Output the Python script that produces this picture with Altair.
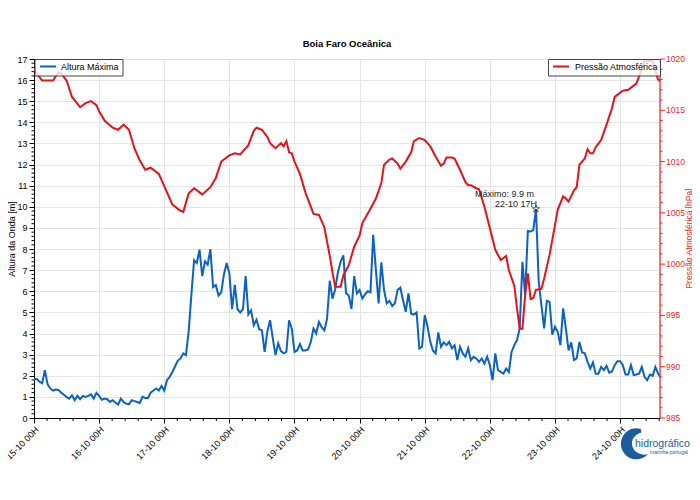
import altair as alt
import pandas as pd

FONT = "Liberation Sans"
BLUE = "#0b62c4"
RED = "#e3121b"
RED_AXIS = "#f02828"
GRID = "#e4e4e4"
LOGO_BLUE = "#1b5c9e"

TITLE = "Boia Faro Oceânica"
WAVE_LABEL = "Altura Máxima"
PRESS_LABEL = "Pressão Atmosférica"
Y_LEFT_TITLE = "Altura da Onda [m]"
Y_RIGHT_TITLE = "Pressão Atmosférica [hPa]"
LOGO_TEXT = "hidrográfico"
LOGO_SUB = "marinha-portugal"

START = pd.Timestamp("2024-10-15T00:00:00Z")

# hourly maximum wave height [m], from 15-10 00H
wave_hours = list(range(0, 232))
wave_m = [
    1.85, 1.85, 1.72, 1.65, 2.26, 1.6, 1.4, 1.3, 1.35, 1.33, 1.2, 1.1,
    1.0, 0.92, 1.08, 0.84, 1.05, 0.89, 1.05, 1.0, 1.05, 1.12, 0.92, 1.19,
    1.05, 0.86, 0.92, 0.89, 0.76, 0.84, 0.73, 0.63, 0.92, 0.76, 0.68, 0.65,
    0.84, 0.8, 0.76, 0.71, 1.0, 0.95, 0.95, 1.2, 1.3, 1.4, 1.3, 1.52,
    1.3, 1.79, 1.95, 2.18, 2.45, 2.72, 2.82, 3.06, 2.98, 4.1, 5.84, 7.47,
    7.34, 7.97, 6.72, 7.42, 7.26, 8.0, 6.2, 6.3, 5.8, 5.95, 6.8, 7.34,
    6.85, 5.15, 6.3, 5.15, 5.0, 5.15, 6.72, 4.9, 5.1, 4.4, 4.65, 4.2,
    4.15, 3.13, 4.1, 4.63, 3.77, 2.98, 3.54, 3.17, 3.06, 3.13, 4.63, 4.23,
    3.13, 3.2, 3.5, 3.2, 3.2, 3.25, 3.6, 4.23, 4.0, 4.55, 4.3, 4.15,
    4.7, 6.5, 5.65, 6.1, 6.9, 7.4, 7.7, 5.9, 5.8, 5.16, 6.72, 5.9,
    6.06, 5.66, 5.85, 6.0, 5.95, 8.67, 7.0, 5.43, 7.37, 6.06, 5.43, 5.55,
    5.3, 5.43, 6.06, 6.17, 5.58, 5.03, 5.9, 4.94, 4.9, 5.0, 3.29, 3.37,
    4.87, 4.35, 3.63, 3.2, 3.06, 4.05, 3.37, 3.58, 3.45, 3.6, 3.3, 3.45,
    2.74, 3.37, 3.06, 2.9, 3.3, 2.74, 2.9, 2.82, 2.66, 2.82, 2.58, 2.9,
    2.5, 1.79, 3.06, 2.27, 2.18, 2.1, 2.34, 2.18, 3.13, 3.45, 3.69, 4.24,
    7.4, 5.82, 8.86, 8.83, 8.9, 9.9, 6.45, 5.35, 4.24, 5.55, 5.5, 3.94,
    4.32, 4.08, 3.45, 5.19, 4.24, 3.2, 3.58, 2.74, 2.82, 3.6, 3.1, 3.06,
    2.66, 2.34, 2.63, 2.1, 2.1, 2.42, 2.27, 2.47, 2.15, 2.2, 2.5, 2.69,
    2.69, 2.5, 2.06, 2.06, 2.5, 2.03, 2.06, 2.1, 2.42, 1.95, 1.79, 2.06,
    2.0, 2.42, 2.1, 1.9,
]

# atmospheric pressure [hPa]
press_hours = [
    0, 1, 3, 7, 9, 10, 12, 14, 17, 19, 21, 23, 24, 26, 29, 31, 33, 35, 37, 39,
    41, 43, 46, 48, 51, 54, 55, 57, 59, 62, 65, 67, 69, 72, 74, 76, 79, 81, 82, 84,
    86, 87, 89, 91, 92, 93, 94, 95, 96, 98, 100, 102, 103, 105, 107, 109, 110, 111, 113, 114,
    116, 118, 120, 121, 124, 126, 128, 129, 131, 132, 134, 135, 137, 139, 140, 142, 144, 146, 148, 150,
    151, 152, 154, 155, 157, 159, 160, 161, 163, 164, 166, 168, 170, 172, 173, 174, 175, 177, 178, 179,
    180, 181, 182, 183, 184, 185, 187, 188, 190, 192, 193, 195, 196, 197, 199, 200, 201, 203, 204, 205,
    206, 207, 209, 211, 213, 214, 217, 219, 221, 222, 224, 225, 228, 229, 230, 231,
]
press_hpa = [
    1019.1, 1018.6, 1017.9, 1017.9, 1018.7, 1018.6, 1017.9, 1016.3, 1015.3, 1015.7, 1015.9, 1015.5, 1014.9, 1014.0, 1013.3, 1013.1, 1013.6, 1013.1, 1011.3, 1010.1,
    1009.2, 1009.4, 1008.8, 1007.6, 1005.8, 1005.2, 1005.1, 1006.9, 1007.4, 1006.8, 1007.5, 1008.4, 1010.0, 1010.6, 1010.8, 1010.7, 1011.6, 1013.0, 1013.3, 1013.1,
    1012.4, 1011.8, 1011.3, 1011.8, 1011.5, 1012.0, 1010.9, 1010.8, 1010.0, 1008.8, 1007.0, 1005.6, 1004.9, 1004.8, 1003.6, 1000.8, 999.2, 997.8, 997.8, 998.9,
    999.9, 1001.7, 1002.8, 1004.0, 1005.4, 1006.4, 1007.9, 1009.7, 1010.2, 1010.3, 1009.8, 1009.3, 1010.0, 1010.9, 1012.0, 1012.3, 1012.1, 1011.5, 1010.5, 1009.6,
    1009.8, 1010.4, 1010.4, 1010.3, 1009.2, 1008.0, 1007.7, 1007.7, 1007.4, 1007.3, 1005.6, 1003.5, 1001.4, 1000.4, 1000.6, 1000.8, 999.4, 997.9, 995.7, 993.7,
    993.7, 997.0, 999.1, 996.6, 996.7, 997.5, 997.6, 998.6, 1000.9, 1003.8, 1005.3, 1006.6, 1006.4, 1006.1, 1007.2, 1007.5, 1009.7, 1010.3, 1011.2, 1010.8,
    1010.8, 1011.4, 1012.1, 1013.6, 1015.2, 1016.3, 1016.9, 1017.0, 1017.4, 1017.6, 1019.0, 1019.8, 1019.8, 1018.8, 1018.0, 1017.8,
]

WAVE_DOMAIN = [0, 17]
PRESS_DOMAIN = [985, 1020]
X_END_HOURS = 230.7

# axis ticks
x_major_hours = [24 * d for d in range(10)]
x_minor_hours = [round(i * 4.8, 1) for i in range(49) if i % 5 != 0]
y_left_major = list(range(0, 18))
y_left_minor = [round(i * 0.2, 1) for i in range(86) if i % 5 != 0]
y_right_major = list(range(985, 1021, 5))
y_right_minor = [v for v in range(985, 1021) if v % 5 != 0]

W, H = 626, 359

# mapping of the pressure axis onto the shared vertical scale
P2M = (f"(datum.p - {PRESS_DOMAIN[0]}) / {PRESS_DOMAIN[1] - PRESS_DOMAIN[0]}"
       f" * {WAVE_DOMAIN[1] - WAVE_DOMAIN[0]} + {WAVE_DOMAIN[0]}")


def iso(h):
    return (START + pd.Timedelta(hours=h)).strftime("%Y-%m-%dT%H:%M:%SZ")


def ms(h):
    return int((START + pd.Timedelta(hours=h)).value // 10**6)


wave_df = pd.DataFrame({"t": [iso(h) for h in wave_hours], "m": wave_m})
press_df = pd.DataFrame({"t": [iso(h) for h in press_hours], "p": press_hpa})

imax = max(range(len(wave_m)), key=lambda i: wave_m[i])
max_h = wave_hours[imax]
max_ts = START + pd.Timedelta(hours=max_h)
annot_df = pd.DataFrame({
    "t": [iso(max_h)],
    "m": [wave_m[imax]],
    "l1": [f"Máximo: {wave_m[imax]:.1f} m"],
    "l2": [max_ts.strftime("%d-%m %HH")],
})

x_axis = alt.Axis(
    values=[ms(h) for h in x_major_hours], format="%d-%m %HH",
    labelAngle=-45, labelFontSize=9, labelFont=FONT, labelColor="black",
    labelOverlap=False, labelPadding=2,
    tickSize=5, grid=True, gridColor=GRID, domainColor="black", tickColor="black",
    title=None,
)
x_scale = alt.Scale(type="utc", domain=[ms(0), ms(X_END_HOURS)])

y_axis = alt.Axis(
    values=y_left_major, format="d",
    labelFontSize=9, labelFont=FONT, labelColor="black", labelPadding=2,
    tickSize=5, grid=True, gridColor=GRID, domainColor="black", tickColor="black",
    title=Y_LEFT_TITLE, titleFont=FONT, titleFontSize=9, titleFontWeight="normal",
    titleColor="black", titlePadding=0,
)
y_scale = alt.Scale(domain=WAVE_DOMAIN, nice=False, zero=False)


def X():
    return alt.X("t:T", scale=x_scale, axis=x_axis)


def Y(field="m"):
    return alt.Y(f"{field}:Q", scale=y_scale, axis=y_axis)


# ---- data lines ----
wave_line = alt.Chart(wave_df).mark_line(color=BLUE, strokeWidth=2, clip=True).encode(
    x=X(), y=Y()
)
press_line = alt.Chart(press_df).transform_calculate(pm=P2M).mark_line(
    color=RED, strokeWidth=2, clip=True
).encode(x=X(), y=Y("pm"))

# ---- minor ticks ----
x_minor = alt.Chart(pd.DataFrame({"t": [iso(h) for h in x_minor_hours]})).mark_rule(
    color="black", strokeWidth=1
).encode(x=X(), y=alt.value(H), y2=alt.value(H + 3))
yl_minor = alt.Chart(pd.DataFrame({"m": y_left_minor})).mark_rule(
    color="black", strokeWidth=1
).encode(y=Y(), x=alt.value(-2.5), x2=alt.value(0))

# ---- right (pressure) axis ----
dummy = alt.Data(values=[{"a": 1}])
yr_domain = alt.Chart(dummy).mark_rule(color=RED_AXIS, strokeWidth=1.2).encode(
    x=alt.value(W), y=alt.value(0), y2=alt.value(H)
)
yr_minor = alt.Chart(pd.DataFrame({"p": y_right_minor})).transform_calculate(pm=P2M).mark_rule(
    color=RED_AXIS, strokeWidth=1
).encode(y=Y("pm"), x=alt.value(W), x2=alt.value(W + 2.5))
yr_major = alt.Chart(pd.DataFrame({"p": y_right_major})).transform_calculate(pm=P2M).mark_rule(
    color=RED_AXIS, strokeWidth=1
).encode(y=Y("pm"), x=alt.value(W), x2=alt.value(W + 5))
yr_labels = alt.Chart(pd.DataFrame({"p": y_right_major})).transform_calculate(pm=P2M).mark_text(
    color=RED_AXIS, align="left", baseline="middle", fontSize=8.5, font=FONT
).encode(y=Y("pm"), x=alt.value(W + 6), text=alt.Text("p:Q", format="d"))
yr_title = alt.Chart(dummy).mark_text(
    text=Y_RIGHT_TITLE, angle=270, align="center", baseline="middle",
    fontSize=8.5, font=FONT, color=RED_AXIS
).encode(x=alt.value(W + 28.5), y=alt.value(H / 2))

# ---- maximum annotation ----
STAR = ("M0,-1 L0.223,-0.307 L0.951,-0.309 L0.361,0.117 L0.588,0.809 L0,0.38 "
        "L-0.588,0.809 L-0.361,0.117 L-0.951,-0.309 L-0.223,-0.307 Z")
star = alt.Chart(annot_df).mark_point(
    shape=STAR, filled=False, color="#222", size=60, strokeWidth=1
).encode(x=X(), y=Y())
txt1 = alt.Chart(annot_df).mark_text(
    align="right", baseline="middle", dx=-2, dy=-15, fontSize=9, font=FONT, color="#222"
).encode(x=X(), y=Y(), text="l1:N")
txt2 = alt.Chart(annot_df).mark_text(
    align="right", baseline="middle", dx=1, dy=-5, fontSize=9, font=FONT, color="#222"
).encode(x=X(), y=Y(), text="l2:N")

# ---- legends ----
leg_blue_box = alt.Chart(dummy).mark_rect(
    fill="white", fillOpacity=0.8, stroke="#444", strokeWidth=1
).encode(x=alt.value(1), x2=alt.value(89), y=alt.value(0.5), y2=alt.value(17))
leg_blue_line = alt.Chart(dummy).mark_rule(color=BLUE, strokeWidth=2).encode(
    x=alt.value(6), x2=alt.value(22), y=alt.value(7.5)
)
leg_blue_text = alt.Chart(dummy).mark_text(
    text=WAVE_LABEL, align="left", baseline="middle", fontSize=9, font=FONT, color="black"
).encode(x=alt.value(27), y=alt.value(8))

leg_red_box = alt.Chart(dummy).mark_rect(
    fill="white", fillOpacity=0.8, stroke="#444", strokeWidth=1
).encode(x=alt.value(514.5), x2=alt.value(W + 0.5), y=alt.value(0.5), y2=alt.value(17))
leg_red_line = alt.Chart(dummy).mark_rule(color=RED, strokeWidth=2).encode(
    x=alt.value(519), x2=alt.value(535), y=alt.value(7.5)
)
leg_red_text = alt.Chart(dummy).mark_text(
    text=PRESS_LABEL, align="left", baseline="middle", fontSize=9, font=FONT, color="black"
).encode(x=alt.value(541), y=alt.value(8))

# ---- logo ----
SWOOSH = "M 0.3 -0.95 A 0.98 0.98 0 1 0 0.75 0.65 A 0.8 0.7 0 1 1 0.35 -0.72 Z"
logo_swoosh = alt.Chart(dummy).mark_point(
    shape=SWOOSH, filled=True, color=LOGO_BLUE, size=1000, opacity=1
).encode(x=alt.value(602), y=alt.value(385))
logo_text = alt.Chart(dummy).mark_text(
    text=LOGO_TEXT, align="left", baseline="middle", fontSize=10.5, font=FONT,
    color=LOGO_BLUE
).encode(x=alt.value(601), y=alt.value(385))
logo_sub = alt.Chart(dummy).mark_text(
    text=LOGO_SUB, align="left", baseline="middle", fontSize=5, font=FONT, color=LOGO_BLUE
).encode(x=alt.value(616), y=alt.value(393))

chart = alt.layer(
    yl_minor, x_minor, wave_line, press_line,
    yr_domain, yr_minor, yr_major, yr_labels, yr_title,
    star, txt1, txt2,
    leg_blue_box, leg_blue_line, leg_blue_text,
    leg_red_box, leg_red_line, leg_red_text,
    logo_swoosh, logo_text, logo_sub,
).properties(
    width=W, height=H,
    title=alt.TitleParams(TITLE, font=FONT, fontSize=9.5, fontWeight="bold",
                          anchor="middle", offset=7, color="black"),
    autosize=alt.AutoSizeParams(type="none"),
    padding={"left": 26, "top": 51, "right": 32, "bottom": 74},
).configure_view(stroke="#666", strokeWidth=1.2).configure(background="white")

chart.save("out.html", embed_options={"renderer": "svg", "actions": False})
